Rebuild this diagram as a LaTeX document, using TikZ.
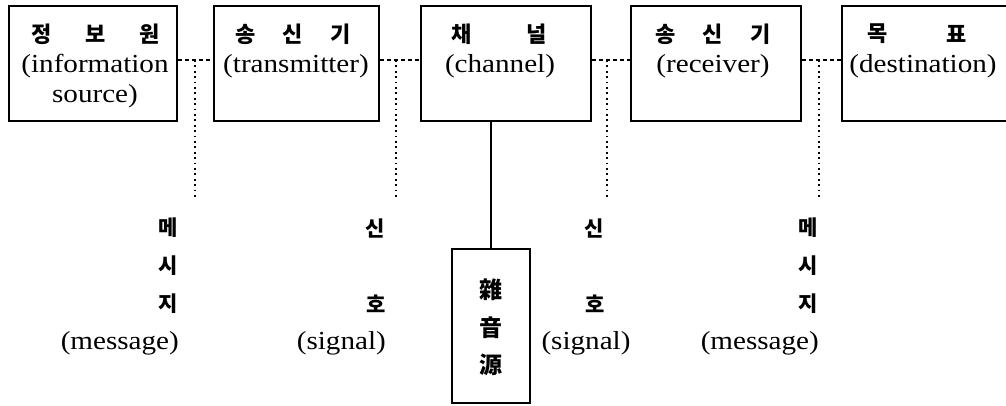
\documentclass[tikz,border=0pt]{standalone}
\usepackage{fontspec}
\setmainfont{Liberation Serif}[FakeStretch=1.12]
\newfontfamily\kor{Noto Sans CJK KR}
\begin{document}
\begin{tikzpicture}[x=1pt,y=-1pt,
  box/.style={draw, line width=1.6pt, rectangle, inner sep=0pt, minimum height=115pt},
  ktitle/.style={font=\kor\bfseries\fontsize{22}{22}\selectfont, inner sep=0pt},
  eng/.style={font=\fontsize{26}{26}\selectfont, inner sep=0pt},
  klabel/.style={font=\kor\bfseries\fontsize{21}{21}\selectfont, inner sep=0pt},
  hanja/.style={font=\kor\bfseries\fontsize{23}{23}\selectfont, inner sep=0pt},
  link/.style={line width=1.3pt, dash pattern=on 4pt off 3pt},
  tap/.style={line width=1.8pt, dash pattern=on 1.8pt off 3.6pt},
  wire/.style={line width=1.6pt}]
\useasboundingbox (0,0) rectangle (1006,406);

% the five stages of the chain
\node[box, minimum width=168pt] (b1) at (93,63.5) {};
\node[box, minimum width=165pt] (b2) at (296.5,63.5) {};
\node[box, minimum width=170pt] (b3) at (506,63.5) {};
\node[box, minimum width=170pt] (b4) at (716,63.5) {};
\node[box, minimum width=170pt] (b5) at (927,63.5) {};

% box titles
\node[ktitle] (t1a) at (42,34) {정};
\node[ktitle] (t1b) at (96,34) {보};
\node[ktitle] (t1c) at (150,34) {원};
\node[eng] (e1a) at (95,66) {(information};
\node[eng] (e1b) at (95,96) {source)};

\node[ktitle] (t2a) at (246,34) {송};
\node[ktitle] (t2b) at (293,34) {신};
\node[ktitle] (t2c) at (341,34) {기};
\node[eng] (e2) at (296,66) {(transmitter)};

\node[ktitle] (t3a) at (462,34) {채};
\node[ktitle] (t3b) at (537,34) {널};
\node[eng] (e3) at (500,66) {(channel)};

\node[ktitle] (t4a) at (666,34) {송};
\node[ktitle] (t4b) at (713,34) {신};
\node[ktitle] (t4c) at (761,34) {기};
\node[eng] (e4) at (713,66) {(receiver)};

\node[ktitle] (t5a) at (878,34) {목};
\node[ktitle] (t5b) at (957,34) {표};
\node[eng] (e5) at (923,66) {(destination)};

% noise source
\node[draw, line width=1.6pt, inner sep=0pt, minimum width=78pt, minimum height=154pt] (ns) at (491,326) {};
\node[hanja] (h1) at (491,290) {雜};
\node[hanja] (h2) at (491,328) {音};
\node[hanja] (h3) at (491,365) {源};
\draw[wire] (ns.north) -- (ns.north |- b3.south);

% junctions on the links and ends of the taps
\coordinate (j1) at (195,60);
\coordinate (j2) at (396,60);
\coordinate (j3) at (607,60);
\coordinate (j4) at (819,60);
\coordinate (d1) at (195,199);
\coordinate (d2) at (396,199);
\coordinate (d3) at (607,199);
\coordinate (d4) at (819,199);

\draw[link] (b1.east |- j1) -- (b2.west |- j1);
\draw[link] (b2.east |- j2) -- (b3.west |- j2);
\draw[link] (b3.east |- j3) -- (b4.west |- j3);
\draw[link] (b4.east |- j4) -- (b5.west |- j4);
\draw[tap] (j1) -- (d1);
\draw[tap] (j2) -- (d2);
\draw[tap] (j3) -- (d3);
\draw[tap] (j4) -- (d4);

% labels under the taps
\node[klabel, anchor=east] (m1a) at (178,228) {메};
\node[klabel, anchor=east] (m1b) at (178,266) {시};
\node[klabel, anchor=east] (m1c) at (178,304) {지};
\node[eng, anchor=east] (m1d) at (179,343) {(message)};

\node[klabel, anchor=east] (s1a) at (385,228) {신};
\node[klabel, anchor=east] (s1b) at (386,304) {호};
\node[eng, anchor=east] (s1c) at (386,343) {(signal)};

\node[klabel] (s2a) at (594,228) {신};
\node[klabel] (s2b) at (595,304) {호};
\node[eng] (s2c) at (586,343) {(signal)};

\node[klabel, anchor=east] (m2a) at (818,228) {메};
\node[klabel, anchor=east] (m2b) at (818,266) {시};
\node[klabel, anchor=east] (m2c) at (818,304) {지};
\node[eng, anchor=east] (m2d) at (819,343) {(message)};
\end{tikzpicture}
\end{document}
